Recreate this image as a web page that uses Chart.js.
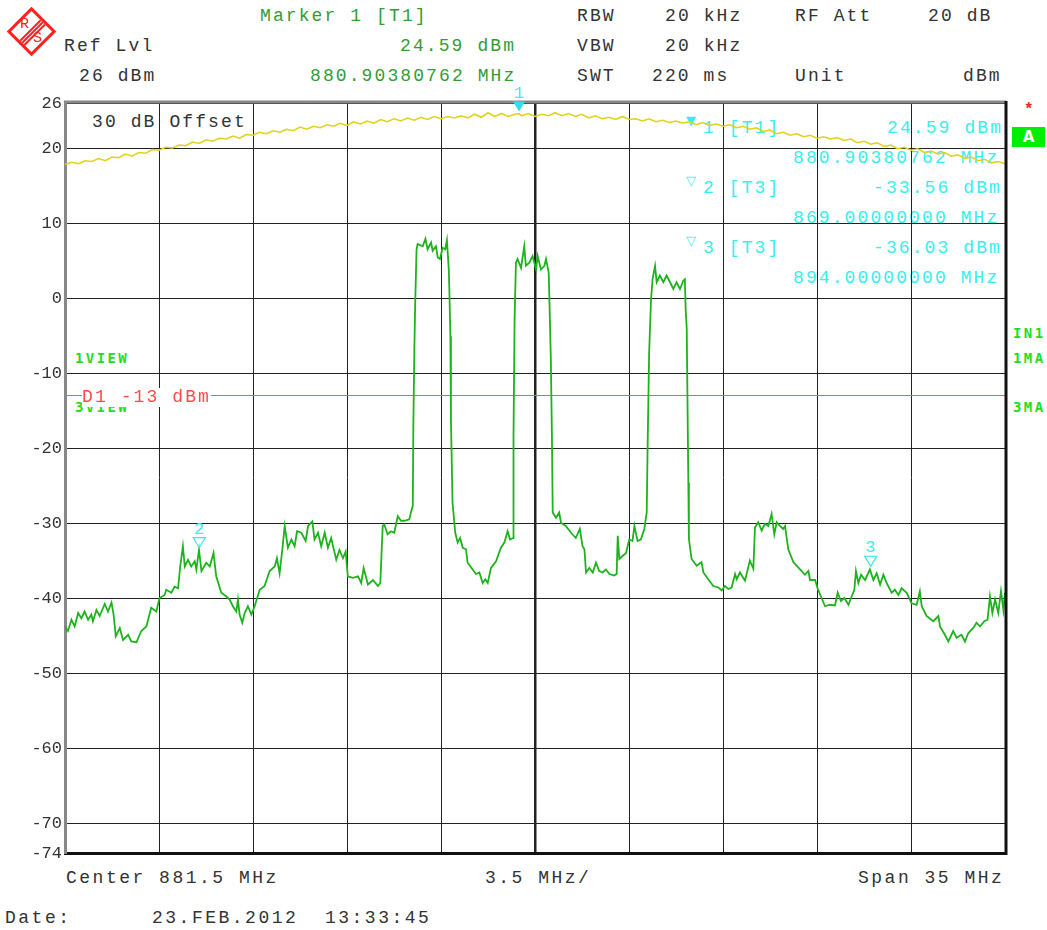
<!DOCTYPE html>
<html>
<head>
<meta charset="utf-8">
<script src="https://cdn.jsdelivr.net/npm/chart.js@4/dist/chart.umd.min.js"></script>
<style>
  body { margin: 0; background: #fff; }
  #wrap { position: relative; width: 1047px; height: 930px; overflow: hidden; }
  #chart { position: absolute; left: 0; top: 0; z-index: 2; }
  .t { position: absolute; z-index: 1; font-family: 'Liberation Mono', monospace; font-size: 18px; line-height: 18px;
       letter-spacing: 2.1px; white-space: pre; color: #333; }
  .w { letter-spacing: 2.5px; }
  .g { color: #349c34; }
  .c { color: #38eeee; }
  .b { font-family: 'DejaVu Sans Mono', monospace; font-weight: bold; font-size: 14px; line-height: 14px;
       letter-spacing: 2.4px; color: #22dd22; }
  .tri { font-family: 'DejaVu Sans', sans-serif; font-size: 13px; letter-spacing: 0; }
  #d1 { z-index: 3; color: #ff4a4a; background: #fff; padding-bottom: 1px; }
  #logo { position: absolute; left: 14px; top: 14px; width: 29px; height: 29px; border: 3px solid #ff2020;
          transform: rotate(45deg); }
  #logo i { position: absolute; top: 0; bottom: 0; width: 1.5px; background: #ff2020; }
  .lg { font-size: 15px; color: #ff2020; letter-spacing: 0; z-index: 3; }
  #abox { position: absolute; left: 1012px; top: 127px; width: 33px; height: 20px; background: #00ee00; z-index: 1;
          color: #fff; font: bold 15px 'DejaVu Sans', sans-serif; line-height: 20px; text-align: center; }
</style>
</head>
<body>
<div id="wrap">
  <canvas id="chart" width="1047" height="930"></canvas>

  <div id="logo"><i style="left:12px"></i><i style="left:15px"></i><i style="left:18px"></i></div>
  <div class="t lg" style="left:20px;top:16px">R</div>
  <div class="t lg" style="left:33px;top:30px">S</div>

  <div class="t g" style="left:260px;top:7px">Marker 1 [T1]</div>
  <div class="t" style="left:64px;top:37px">Ref Lvl</div>
  <div class="t g" style="left:400px;top:37px">24.59 dBm</div>
  <div class="t" style="left:79px;top:67px">26 dBm</div>
  <div class="t g" style="left:310px;top:67px">880.90380762 MHz</div>

  <div class="t" style="left:577px;top:7px">RBW</div>
  <div class="t" style="left:665px;top:7px">20 kHz</div>
  <div class="t" style="left:795px;top:7px">RF Att</div>
  <div class="t" style="left:928px;top:7px">20 dB</div>
  <div class="t" style="left:577px;top:37px">VBW</div>
  <div class="t" style="left:665px;top:37px">20 kHz</div>
  <div class="t" style="left:577px;top:67px">SWT</div>
  <div class="t" style="left:652px;top:67px">220 ms</div>
  <div class="t" style="left:795px;top:67px">Unit</div>
  <div class="t" style="left:963px;top:67px">dBm</div>

  <div class="t" style="left:92px;top:113px">30 dB Offset</div>

  <div class="t c tri" style="left:686px;top:112px">▼</div>
  <div class="t c" style="left:703px;top:119px">1 [T1]</div>
  <div class="t c" style="left:887px;top:119px">24.59 dBm</div>
  <div class="t c" style="left:793px;top:149px">880.90380762 MHz</div>
  <div class="t c tri" style="left:686px;top:172px">▽</div>
  <div class="t c" style="left:703px;top:179px">2 [T3]</div>
  <div class="t c" style="left:873px;top:179px">-33.56 dBm</div>
  <div class="t c" style="left:793px;top:209px">869.00000000 MHz</div>
  <div class="t c tri" style="left:686px;top:232px">▽</div>
  <div class="t c" style="left:703px;top:239px">3 [T3]</div>
  <div class="t c" style="left:873px;top:239px">-36.03 dBm</div>
  <div class="t c" style="left:793px;top:269px">894.00000000 MHz</div>

  <div class="t b" style="left:75px;top:351px">1VIEW</div>
  <div class="t b" style="left:75px;top:400px">3VIEW</div>
  <div class="t" id="d1" style="left:82px;top:388px">D1 -13 dBm</div>

  <div class="t" style="left:1024px;top:101px;color:#ff2020;font-weight:bold;font-size:16px">*</div>
  <div id="abox">A</div>
  <div class="t b" style="left:1013px;top:326px">IN1</div>
  <div class="t b" style="left:1013px;top:351px">1MA</div>
  <div class="t b" style="left:1013px;top:400px">3MA</div>

  <div class="t w" style="left:66px;top:869px">Center 881.5 MHz</div>
  <div class="t w" style="left:485px;top:869px">3.5 MHz/</div>
  <div class="t w" style="left:858px;top:869px">Span 35 MHz</div>
  <div class="t w" style="left:5px;top:909px">Date:</div>
  <div class="t w" style="left:152px;top:909px">23.FEB.2012  13:33:45</div>
</div>

<script>
// sweep: 864 .. 899 MHz, 3.5 MHz/div, ref level 26 dBm, 100 dB range
const xTicks = [864, 867.5, 871, 874.5, 878, 881.5, 885, 888.5, 892, 895.5, 899];
const yTicks = [26, 20, 10, 0, -10, -20, -30, -40, -50, -60, -70, -74];
const displayLine = -13;

// trace 1 (yellow, view)
const yellowFreq = [
  864.00, 864.25, 864.50, 864.75, 865.00, 865.25, 865.50, 865.75, 866.00, 866.25, 866.50, 866.75,
  867.00, 867.25, 867.50, 867.75, 868.00, 868.25, 868.50, 868.75, 869.00, 869.25, 869.50, 869.75,
  870.00, 870.25, 870.50, 870.75, 871.00, 871.25, 871.50, 871.75, 872.00, 872.25, 872.50, 872.75,
  873.00, 873.25, 873.50, 873.75, 874.00, 874.25, 874.50, 874.75, 875.00, 875.25, 875.50, 875.75,
  876.00, 876.25, 876.50, 876.75, 877.00, 877.25, 877.50, 877.75, 878.00, 878.25, 878.50, 878.75,
  879.00, 879.25, 879.50, 879.75, 880.00, 880.25, 880.50, 880.75, 880.90, 881.00, 881.25, 881.50,
  881.75, 882.00, 882.25, 882.50, 882.75, 883.00, 883.25, 883.50, 883.75, 884.00, 884.25, 884.50,
  884.75, 885.00, 885.25, 885.50, 885.75, 886.00, 886.25, 886.50, 886.75, 887.00, 887.25, 887.50,
  887.75, 888.00, 888.25, 888.50, 888.75, 889.00, 889.25, 889.50, 889.75, 890.00, 890.25, 890.50,
  890.75, 891.00, 891.25, 891.50, 891.75, 892.00, 892.25, 892.50, 892.75, 893.00, 893.25, 893.50,
  893.75, 894.00, 894.25, 894.50, 894.75, 895.00, 895.25, 895.50, 895.75, 896.00, 896.25, 896.50,
  896.75, 897.00, 897.25, 897.50, 897.75, 898.00, 898.25, 898.50, 898.75, 899.00
];
const yellowLevel = [
  17.8, 18.1, 17.9, 18.3, 18.2, 18.6, 18.3, 18.8, 18.7, 19.2, 18.9, 19.4,
  19.3, 19.8, 19.7, 20.1, 20.0, 20.4, 20.3, 20.8, 20.6, 21.1, 20.9, 21.3,
  21.2, 21.6, 21.3, 21.8, 21.7, 22.1, 21.9, 22.3, 22.1, 22.5, 22.3, 22.8,
  22.5, 22.9, 22.7, 23.1, 22.9, 23.3, 23.0, 23.5, 23.2, 23.6, 23.3, 23.8,
  23.5, 23.9, 23.6, 24.0, 23.7, 24.1, 23.8, 24.2, 23.9, 24.2, 24.0, 24.3,
  24.0, 24.5, 24.1, 24.7, 24.2, 24.6, 24.2, 24.5, 24.59, 24.3, 24.6, 24.2,
  24.5, 24.3, 24.7, 24.3, 24.6, 24.2, 24.5, 24.0, 24.3, 23.9, 24.1, 23.8,
  24.2, 23.8, 23.9, 23.6, 23.9, 23.5, 23.7, 23.4, 23.6, 23.3, 23.5, 23.1,
  23.4, 23.0, 23.2, 22.9, 23.1, 22.7, 22.9, 22.5, 22.7, 22.2, 22.4, 21.9,
  22.1, 21.7, 21.9, 21.5, 21.7, 21.3, 21.5, 21.2, 21.4, 21.0, 21.2, 20.7,
  20.9, 20.5, 20.7, 20.2, 20.4, 19.9, 20.1, 19.7, 19.9, 19.4, 19.6, 19.2,
  19.4, 18.9, 19.1, 18.6, 18.8, 18.3, 18.5, 18.0, 18.2, 17.9
];

// trace 3 (green, max hold)
const greenFreq = [
  864.00, 864.11, 864.24, 864.36, 864.49, 864.61, 864.73, 864.86, 864.98, 865.04, 865.17, 865.29,
  865.48, 865.60, 865.73, 865.81, 865.89, 866.04, 866.16, 866.35, 866.47, 866.66, 866.84, 867.03,
  867.21, 867.40, 867.52, 867.71, 867.77, 867.96, 868.08, 868.21, 868.29, 868.39, 868.46, 868.58,
  868.70, 868.83, 868.89, 868.99, 869.08, 869.26, 869.39, 869.53, 869.63, 869.82, 870.01, 870.13,
  870.25, 870.38, 870.44, 870.50, 870.60, 870.69, 870.81, 870.94, 871.06, 871.25, 871.43, 871.62,
  871.81, 871.89, 871.99, 872.09, 872.18, 872.30, 872.43, 872.55, 872.64, 872.80, 872.96, 873.05,
  873.21, 873.29, 873.42, 873.54, 873.67, 873.79, 873.91, 874.10, 874.22, 874.35, 874.45, 874.53,
  874.72, 874.91, 875.03, 875.12, 875.28, 875.47, 875.65, 875.74, 875.83, 875.89, 876.01, 876.14,
  876.26, 876.39, 876.51, 876.64, 876.82, 876.88, 876.95, 876.97, 877.01, 877.04, 877.09, 877.13,
  877.32, 877.42, 877.50, 877.63, 877.69, 877.81, 877.88, 877.96, 878.06, 878.16, 878.22, 878.29,
  878.31, 878.35, 878.37, 878.43, 878.53, 878.62, 878.71, 878.81, 878.93, 878.99, 879.18, 879.30,
  879.43, 879.55, 879.65, 879.74, 879.86, 880.05, 880.23, 880.36, 880.48, 880.57, 880.69, 880.70,
  880.74, 880.79, 880.85, 880.98, 881.10, 881.16, 881.29, 881.41, 881.54, 881.60, 881.72, 881.85,
  881.91, 882.01, 882.03, 882.09, 882.13, 882.16, 882.28, 882.40, 882.47, 882.65, 882.84, 883.02,
  883.17, 883.27, 883.34, 883.40, 883.52, 883.65, 883.77, 883.89, 884.02, 884.14, 884.27, 884.45,
  884.54, 884.58, 884.64, 884.76, 884.89, 885.01, 885.13, 885.20, 885.32, 885.44, 885.57, 885.66,
  885.69, 885.75, 885.82, 885.88, 885.97, 886.03, 886.15, 886.28, 886.40, 886.53, 886.65, 886.77,
  886.90, 887.02, 887.08, 887.11, 887.15, 887.17, 887.21, 887.23, 887.33, 887.52, 887.70, 887.77,
  887.95, 888.14, 888.33, 888.45, 888.57, 888.70, 888.82, 888.95, 889.01, 889.13, 889.32, 889.50,
  889.63, 889.69, 889.81, 889.94, 890.06, 890.19, 890.31, 890.41, 890.50, 890.62, 890.74, 890.81,
  890.93, 891.12, 891.24, 891.43, 891.55, 891.68, 891.74, 891.93, 892.02, 892.17, 892.30, 892.48,
  892.67, 892.77, 892.89, 893.02, 893.17, 893.29, 893.39, 893.45, 893.54, 893.64, 893.79, 893.97,
  894.10, 894.22, 894.35, 894.47, 894.59, 894.78, 894.90, 895.03, 895.15, 895.34, 895.52, 895.71,
  895.83, 895.90, 896.08, 896.33, 896.52, 896.58, 896.76, 896.89, 897.07, 897.20, 897.38, 897.51,
  897.63, 897.82, 897.94, 898.07, 898.23, 898.35, 898.44, 898.53, 898.63, 898.75, 898.85, 898.94,
  899.00
];
const greenLevel = [
  -43.8, -44.4, -42.9, -43.8, -42.0, -42.7, -41.8, -42.9, -42.2, -43.1, -41.6, -42.4,
  -40.8, -41.8, -40.6, -42.2, -45.1, -44.0, -45.6, -44.9, -45.8, -45.9, -44.4, -43.8,
  -41.3, -41.8, -40.0, -39.6, -38.9, -39.3, -38.5, -38.7, -35.8, -33.1, -35.8, -34.9,
  -35.8, -35.1, -36.2, -33.6, -36.4, -35.3, -35.8, -34.0, -37.1, -39.3, -39.8, -40.2,
  -41.1, -41.8, -40.2, -42.2, -43.3, -42.0, -41.1, -42.2, -41.1, -38.9, -38.4, -36.4,
  -35.8, -34.7, -36.7, -33.6, -30.4, -33.3, -32.2, -33.1, -31.1, -31.3, -32.4, -30.4,
  -29.8, -32.2, -31.3, -33.1, -31.3, -33.3, -32.0, -34.9, -33.6, -34.7, -33.8, -37.1,
  -37.3, -37.1, -38.0, -36.0, -38.2, -37.6, -38.4, -38.0, -30.4, -30.2, -31.5, -31.1,
  -31.3, -29.1, -29.7, -29.7, -29.5, -28.6, -27.7, -17.1, -6.4, -0.6, 6.5, 7.2,
  6.9, 7.9, 6.5, 7.4, 6.3, 6.9, 5.4, 5.2, 6.7, 6.5, 7.7, 3.8,
  1.2, -5.1, -16.2, -27.3, -31.3, -32.6, -32.0, -33.3, -33.5, -35.3, -36.2, -36.8,
  -36.6, -38.0, -37.5, -38.0, -36.0, -35.1, -33.3, -32.6, -31.1, -32.2, -32.0, -18.4,
  -2.8, 4.7, 5.2, 4.0, 6.9, 4.3, 4.7, 5.6, 3.8, 5.6, 3.8, 4.3,
  5.2, 3.4, 0.7, -8.2, -18.4, -28.6, -29.3, -28.6, -30.0, -30.4, -31.3, -32.0,
  -30.8, -33.1, -33.5, -36.6, -36.0, -36.6, -35.3, -36.4, -36.6, -36.2, -36.8, -37.0,
  -36.8, -31.7, -34.8, -34.4, -34.0, -32.2, -32.4, -30.4, -32.4, -32.2, -30.8, -28.6,
  -20.6, -7.3, -0.2, 2.6, 4.3, 2.1, 3.0, 2.1, 3.0, 2.1, 1.2, 2.1,
  1.2, 2.3, 2.5, -1.5, -4.1, -11.2, -24.6, -32.1, -34.8, -35.7, -35.2, -36.6,
  -37.5, -38.4, -38.6, -39.0, -38.4, -38.8, -38.6, -36.8, -37.5, -36.6, -37.7, -35.0,
  -36.1, -30.6, -29.9, -31.0, -30.1, -30.4, -28.8, -31.5, -29.9, -30.4, -30.8, -30.4,
  -33.5, -35.2, -35.7, -36.4, -36.9, -36.4, -37.6, -37.6, -38.7, -40.0, -41.1, -40.9,
  -41.0, -39.3, -40.4, -40.0, -40.9, -39.8, -38.9, -36.4, -38.0, -36.9, -37.6, -36.2,
  -37.6, -36.7, -38.2, -36.9, -38.0, -39.3, -38.9, -39.6, -38.7, -39.3, -40.7, -40.9,
  -39.1, -41.1, -42.4, -43.1, -42.4, -43.8, -44.9, -45.8, -44.4, -45.3, -44.9, -45.8,
  -44.7, -44.0, -43.3, -43.8, -43.1, -42.9, -39.8, -42.0, -40.2, -42.0, -39.1, -41.6,
  -39.3
];

// markers
const markerFreq = [880.90380762, 869.0, 894.0];
const markerLevel = [24.59, -33.56, -36.03];
const markerName = ['1', '2', '3'];
const markerFilled = [true, false, false];

const pts = (xs, ys) => xs.map((x, i) => ({ x: x, y: ys[i] }));

const framePlugin = {
  id: 'frame',
  afterDatasetsDraw(chart) {
    const { ctx, chartArea: a } = chart;
    ctx.save();
    ctx.lineWidth = 3;
    ctx.strokeStyle = '#888';
    ctx.beginPath();
    ctx.moveTo(a.left - 1, a.top - 1);
    ctx.lineTo(a.right + 1, a.top - 1);
    ctx.stroke();
    ctx.strokeStyle = '#111';
    ctx.beginPath();
    ctx.moveTo(a.right + 1, a.top - 2);
    ctx.lineTo(a.right + 1, a.bottom + 2);
    ctx.stroke();
    ctx.restore();
  }
};

const markerPlugin = {
  id: 'markers',
  afterDatasetsDraw(chart) {
    const { ctx } = chart;
    const xs = chart.scales.x, ys = chart.scales.y;
    ctx.save();
    ctx.font = '17px "Liberation Mono", monospace';
    ctx.textAlign = 'center';
    ctx.textBaseline = 'alphabetic';
    markerFreq.forEach((f, i) => {
      const px = xs.getPixelForValue(f);
      const py = ys.getPixelForValue(markerLevel[i]);
      ctx.beginPath();
      ctx.moveTo(px - 6, py - 12);
      ctx.lineTo(px + 6, py - 12);
      ctx.lineTo(px, py - 2);
      ctx.closePath();
      if (markerFilled[i]) {
        ctx.fillStyle = '#30e0e8';
        ctx.fill();
      } else {
        ctx.strokeStyle = '#30e8ee';
        ctx.lineWidth = 1.2;
        ctx.stroke();
      }
      ctx.fillStyle = '#38eeee';
      ctx.fillText(markerName[i], px, py - 16);
    });
    ctx.restore();
  }
};

new Chart(document.getElementById('chart'), {
  type: 'line',
  data: {
    datasets: [
      {
        label: 'Trace 3',
        data: pts(greenFreq, greenLevel),
        borderColor: '#1db31d',
        borderWidth: 1.8,
        pointRadius: 0,
        tension: 0
      },
      {
        label: 'Trace 1',
        data: pts(yellowFreq, yellowLevel),
        borderColor: '#e2d21a',
        borderWidth: 1.6,
        pointRadius: 0,
        tension: 0
      },
      {
        label: 'D1',
        data: [{ x: 864, y: displayLine }, { x: 899, y: displayLine }],
        borderColor: '#ff5a5a',
        borderWidth: 1,
        pointRadius: 0
      }
    ]
  },
  options: {
    responsive: false,
    animation: false,
    layout: { padding: { top: 103, bottom: 77, left: 0, right: 42 } },
    plugins: {
      legend: { display: false },
      tooltip: { enabled: false }
    },
    scales: {
      x: {
        type: 'linear',
        min: 864,
        max: 899,
        afterBuildTicks: s => { s.ticks = xTicks.map(v => ({ value: v })); },
        afterFit: s => { s.height = 0; },
        ticks: { display: false },
        grid: {
          color: '#222',
          drawTicks: false,
          lineWidth: c => (c.tick && c.tick.value === 881.5 ? 2.5 : 1)
        },
        border: { color: '#111', width: 3 }
      },
      y: {
        type: 'linear',
        min: -74,
        max: 26,
        afterBuildTicks: s => { s.ticks = yTicks.map(v => ({ value: v })); },
        afterFit: s => { s.width = 65; },
        ticks: {
          autoSkip: false,
          padding: 3,
          color: '#333',
          font: { family: 'Liberation Mono', size: 17 }
        },
        grid: { color: '#222', drawTicks: false },
        border: { color: '#888', width: 3 }
      }
    }
  },
  plugins: [framePlugin, markerPlugin]
});
</script>
</body>
</html>
